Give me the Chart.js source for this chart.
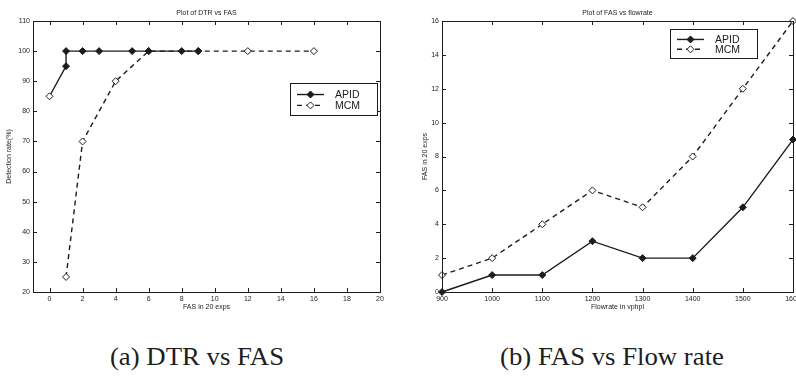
<!DOCTYPE html>
<html><head><meta charset="utf-8">
<script src="https://cdn.jsdelivr.net/npm/chart.js@4"></script>
<style>
html,body{margin:0;padding:0;background:#fff;width:796px;height:387px;overflow:hidden;}
#wrap{position:relative;width:796px;height:387px;overflow:hidden;background:#fff;}
canvas{position:absolute;top:0;}
.cap{position:absolute;font-family:"Liberation Serif","Times New Roman",serif;font-size:25px;line-height:28px;color:#1e1e1e;white-space:nowrap;transform:translateX(-50%) scaleX(1.07);}
</style></head><body>
<div id="wrap">
<canvas id="ca" width="400" height="320" style="left:0"></canvas>
<canvas id="cb" width="420" height="320" style="left:400px"></canvas>
<div class="cap" id="capA" style="left:197px;top:343px"></div>
<div class="cap" id="capB" style="left:612px;top:343px"></div>
</div>
<script>
// ---- data ----
const seriesNames = ['APID', 'MCM'];
// (a) DTR vs FAS
const dtrApidFas  = [0, 1, 1, 2, 3, 5, 6, 8, 9];
const dtrApidRate = [85, 95, 100, 100, 100, 100, 100, 100, 100];
const dtrMcmFas   = [1, 2, 4, 6, 9, 12, 16];
const dtrMcmRate  = [25, 70, 90, 100, 100, 100, 100];
// (b) FAS vs flow rate
const flowRates = [900, 1000, 1100, 1200, 1300, 1400, 1500, 1600];
const fasApid   = [0, 1, 1, 3, 2, 2, 5, 9];
const fasMcm    = [1, 2, 4, 6, 5, 8, 12, 16];
// ticks
const xTicksA = [0, 2, 4, 6, 8, 10, 12, 14, 16, 18, 20];
const yTicksA = [20, 30, 40, 50, 60, 70, 80, 90, 100, 110];
const xTicksB = [900, 1000, 1100, 1200, 1300, 1400, 1500, 1600];
const yTicksB = [0, 2, 4, 6, 8, 10, 12, 14, 16];
// texts
const titleA = 'Plot of DTR vs FAS';
const titleB = 'Plot of FAS vs flowrate';
const xTitleA = 'FAS in 20 exps';
const yTitleA = 'Detection rate(%)';
const xTitleB = 'Flowrate in vphpl';
const yTitleB = 'FAS in 20 exps';
const captionA = '(a) DTR vs FAS';
const captionB = '(b) FAS vs Flow rate';

document.getElementById('capA').textContent = captionA;
document.getElementById('capB').textContent = captionB;

const INK = '#1c1c1c';
const FONT = '"Liberation Sans", Arial, sans-serif';
Chart.defaults.font.family = FONT;
Chart.defaults.color = INK;

const zip = (xs, ys) => xs.map((x, i) => ({x: x, y: ys[i]}));

function makeDatasets(apid, mcm, apidFirstOpen) {
  return [
    {
      label: seriesNames[0], data: apid,
      borderColor: INK, borderWidth: 1.4,
      pointStyle: 'rectRot', pointRadius: 3.5, pointBorderWidth: 1,
      pointBorderColor: INK,
      pointBackgroundColor: (c) => (apidFirstOpen && c.dataIndex === 0) ? '#fff' : INK,
      legendFill: INK,
      tension: 0, clip: false
    },
    {
      label: seriesNames[1], data: mcm,
      borderColor: INK, borderWidth: 1.4, borderDash: [5, 4],
      pointStyle: 'rectRot', pointRadius: 3.5, pointBorderWidth: 1,
      pointBorderColor: INK, pointBackgroundColor: '#fff',
      legendFill: '#fff',
      tension: 0, clip: false
    }
  ];
}

const decor = {
  id: 'decor',
  afterDraw(chart, args, o) {
    const ctx = chart.ctx, a = chart.chartArea;
    ctx.save();
    // box
    ctx.strokeStyle = INK; ctx.lineWidth = 1; ctx.setLineDash([]);
    ctx.strokeRect(Math.round(a.left) + 0.5, Math.round(a.top) + 0.5,
                   Math.round(a.right - a.left), Math.round(a.bottom - a.top));
    // inward ticks
    const xs = chart.scales.x, ys = chart.scales.y, L = 4;
    ctx.beginPath();
    xs.ticks.forEach(t => {
      const p = Math.round(xs.getPixelForValue(t.value)) + 0.5;
      ctx.moveTo(p, a.bottom); ctx.lineTo(p, a.bottom - L);
      ctx.moveTo(p, a.top); ctx.lineTo(p, a.top + L);
    });
    ys.ticks.forEach(t => {
      const p = Math.round(ys.getPixelForValue(t.value)) + 0.5;
      ctx.moveTo(a.left, p); ctx.lineTo(a.left + L, p);
      ctx.moveTo(a.right, p); ctx.lineTo(a.right - L, p);
    });
    ctx.stroke();
    // title
    ctx.fillStyle = INK;
    ctx.font = '7px ' + FONT;
    ctx.textAlign = 'center'; ctx.textBaseline = 'middle';
    ctx.fillText(o.title, (a.left + a.right) / 2, o.titleY);
    // legend
    const lg = o.legend;
    ctx.fillStyle = '#fff';
    ctx.fillRect(lg.x, lg.y, lg.w, lg.h);
    ctx.strokeStyle = INK; ctx.lineWidth = 1;
    ctx.strokeRect(lg.x + 0.5, lg.y + 0.5, lg.w, lg.h);
    chart.data.datasets.forEach((ds, i) => {
      const ry = lg.y + lg.h * (i === 0 ? 0.36 : 0.7);
      ctx.setLineDash(ds.borderDash || []);
      ctx.lineWidth = 1.4; ctx.strokeStyle = INK;
      ctx.beginPath(); ctx.moveTo(lg.x + 7, ry); ctx.lineTo(lg.x + 34, ry); ctx.stroke();
      ctx.setLineDash([]);
      const cx = lg.x + 20.5, r = 3.5;
      ctx.beginPath();
      ctx.moveTo(cx, ry - r); ctx.lineTo(cx + r, ry); ctx.lineTo(cx, ry + r); ctx.lineTo(cx - r, ry); ctx.closePath();
      ctx.fillStyle = ds.legendFill; ctx.fill();
      ctx.lineWidth = 1; ctx.stroke();
      ctx.fillStyle = INK;
      ctx.font = '10.5px ' + FONT;
      ctx.textAlign = 'left'; ctx.textBaseline = 'middle';
      ctx.fillText(ds.label, lg.x + 45, ry + 0.5);
    });
    ctx.restore();
  }
};

function axis(min, max, ticksArr, title, isX, yTitlePad, fitSize) {
  return {
    type: 'linear', min: min, max: max,
    grid: {display: false, drawTicks: false},
    border: {display: false},
    afterBuildTicks: (s) => { s.ticks = ticksArr.map(v => ({value: v})); },
    afterFit: (s) => { if (isX) s.height = fitSize; else s.width = fitSize; },
    ticks: {
      autoSkip: false, maxRotation: 0, padding: 3,
      font: {size: 7}, color: INK,
      callback: (v) => String(v)
    },
    title: {
      display: true, text: title, color: INK,
      font: {size: 7, lineHeight: 1.2},
      padding: isX ? {top: 9, bottom: 9} : {top: yTitlePad, bottom: yTitlePad}
    }
  };
}

function makeChart(id, datasets, xa, ya, pad, decorOpts) {
  return new Chart(document.getElementById(id), {
    type: 'line',
    data: {datasets: datasets},
    options: {
      responsive: false, animation: false, devicePixelRatio: 1,
      layout: {padding: pad},
      plugins: {legend: {display: false}, tooltip: {enabled: false}, title: {display: false}, decor: decorOpts},
      scales: {x: xa, y: ya}
    },
    plugins: [decor]
  });
}

makeChart('ca',
  makeDatasets(zip(dtrApidFas, dtrApidRate), zip(dtrMcmFas, dtrMcmRate), true),
  axis(-1, 20, xTicksA, xTitleA, true, 0, 28),
  axis(20, 110, yTicksA, yTitleA, false, 5, 33),
  {top: 21, right: 20, left: 0, bottom: 0},
  {title: titleA, titleY: 13, legend: {x: 290, y: 83, w: 87, h: 32}}
);

makeChart('cb',
  makeDatasets(zip(flowRates, fasApid), zip(flowRates, fasMcm), false),
  axis(900, 1600, xTicksB, xTitleB, true, 0, 28),
  axis(0, 16, yTicksB, yTitleB, false, 21, 42),
  {top: 21, right: 27, left: 0, bottom: 0},
  {title: titleB, titleY: 13, legend: {x: 270, y: 29, w: 87, h: 29}}
);
</script>
</body></html>
